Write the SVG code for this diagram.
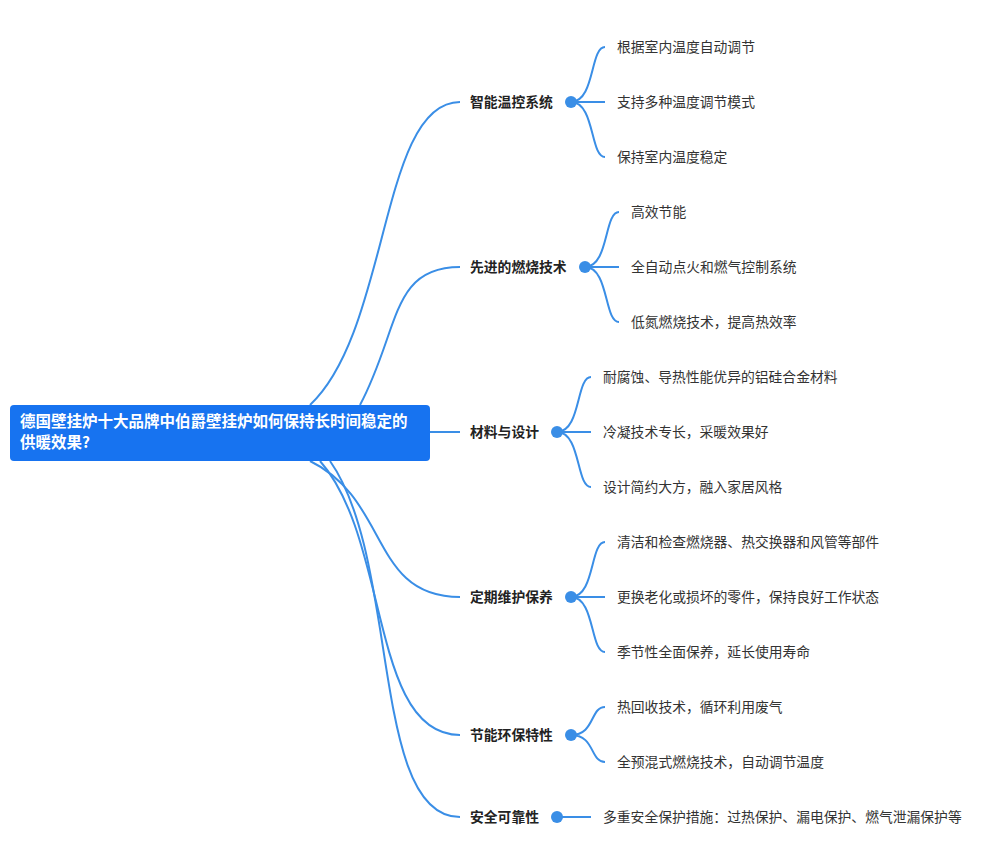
<svg xmlns="http://www.w3.org/2000/svg" width="1000" height="865" viewBox="0 0 1000 865">
<style>
.c{fill:none;stroke:#3a8ee6;stroke-width:2}
.b{font-family:"Noto Sans CJK SC","Liberation Sans",sans-serif;font-size:13.8px;font-weight:bold;fill:#222;dominant-baseline:middle}
.l{font-family:"Noto Sans CJK SC","Liberation Sans",sans-serif;font-size:13.8px;fill:#333;dominant-baseline:middle}
.d{fill:#3a8ee6}
</style>
<rect width="1000" height="865" fill="#fff"/>
<g id="connectors">
<path class="c" d="M310 405 C390 330,380 102,460 102"/>
<path class="c" d="M360 405 C400 330,390 267,460 267"/>
<path class="c" d="M430 432 L460 432"/>
<path class="c" d="M310 461 C390 500,370 597,460 597"/>
<path class="c" d="M320 461 C390 540,370 735,460 735"/>
<path class="c" d="M330 461 C400 560,370 817,460 817"/>
<path class="c" d="M571 102 C595 102,590 47,605 47 M571 102 L605 102 M571 102 C595 102,590 157,605 157"/>
<path class="c" d="M585 267 C609 267,604 212,619 212 M585 267 L619 267 M585 267 C609 267,604 322,619 322"/>
<path class="c" d="M557 432 C581 432,576 377,591 377 M557 432 L591 432 M557 432 C581 432,576 487,591 487"/>
<path class="c" d="M571 597 C595 597,590 542,605 542 M571 597 L605 597 M571 597 C595 597,590 652,605 652"/>
<path class="c" d="M571 735 C595 735,590 707,605 707 M571 735 C595 735,590 762,605 762"/>
<path class="c" d="M557 817 L591 817"/>
</g>
<g id="root"><rect x="10" y="405" width="420" height="56" rx="4" fill="#1773f0"/>
<text x="20" y="423" font-family="Noto Sans CJK SC,Liberation Sans,sans-serif" font-size="15.5" font-weight="bold" fill="#fff" dominant-baseline="middle">德国壁挂炉十大品牌中伯爵壁挂炉如何保持长时间稳定的</text>
<text x="20" y="444" font-family="Noto Sans CJK SC,Liberation Sans,sans-serif" font-size="15.5" font-weight="bold" fill="#fff" dominant-baseline="middle">供暖效果?</text></g>
<g id="n1"><text class="b" x="470" y="103">智能温控系统</text><circle class="d" cx="571" cy="102" r="6"/></g>
<g id="n1a"><text class="l" x="617" y="48">根据室内温度自动调节</text></g>
<g id="n1b"><text class="l" x="617" y="103">支持多种温度调节模式</text></g>
<g id="n1c"><text class="l" x="617" y="158">保持室内温度稳定</text></g>
<g id="n2"><text class="b" x="470" y="268">先进的燃烧技术</text><circle class="d" cx="585" cy="267" r="6"/></g>
<g id="n2a"><text class="l" x="631" y="213">高效节能</text></g>
<g id="n2b"><text class="l" x="631" y="268">全自动点火和燃气控制系统</text></g>
<g id="n2c"><text class="l" x="631" y="323">低氮燃烧技术，提高热效率</text></g>
<g id="n3"><text class="b" x="470" y="433">材料与设计</text><circle class="d" cx="557" cy="432" r="6"/></g>
<g id="n3a"><text class="l" x="603" y="378">耐腐蚀、导热性能优异的铝硅合金材料</text></g>
<g id="n3b"><text class="l" x="603" y="433">冷凝技术专长，采暖效果好</text></g>
<g id="n3c"><text class="l" x="603" y="488">设计简约大方，融入家居风格</text></g>
<g id="n4"><text class="b" x="470" y="598">定期维护保养</text><circle class="d" cx="571" cy="597" r="6"/></g>
<g id="n4a"><text class="l" x="617" y="543">清洁和检查燃烧器、热交换器和风管等部件</text></g>
<g id="n4b"><text class="l" x="617" y="598">更换老化或损坏的零件，保持良好工作状态</text></g>
<g id="n4c"><text class="l" x="617" y="653">季节性全面保养，延长使用寿命</text></g>
<g id="n5"><text class="b" x="470" y="736">节能环保特性</text><circle class="d" cx="571" cy="735" r="6"/></g>
<g id="n5a"><text class="l" x="617" y="708">热回收技术，循环利用废气</text></g>
<g id="n5b"><text class="l" x="617" y="763">全预混式燃烧技术，自动调节温度</text></g>
<g id="n6"><text class="b" x="470" y="818">安全可靠性</text><circle class="d" cx="557" cy="817" r="6"/></g>
<g id="n6a"><text class="l" x="603" y="818">多重安全保护措施：过热保护、漏电保护、燃气泄漏保护等</text></g>
</svg>
